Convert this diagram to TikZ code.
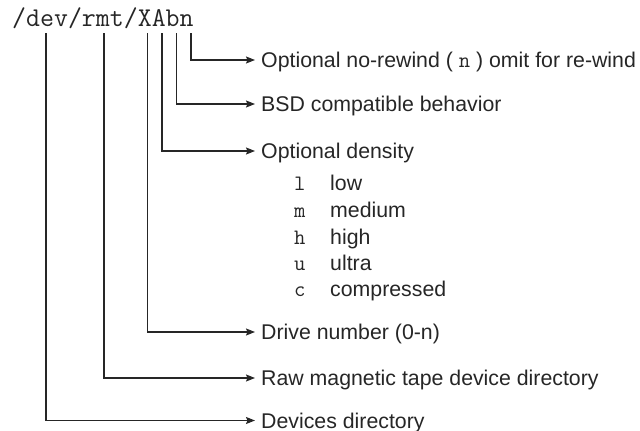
\documentclass[tikz,border=0pt]{standalone}
\usepackage{fontspec}
\setmainfont{Liberation Sans}
\usetikzlibrary{arrows.meta}
\tikzset{
  branch/.style={draw=black!85, line width=1.1pt, -{Stealth[length=9pt,width=7pt,inset=1.5pt]}},
  lbl/.style={anchor=base west, inner sep=0pt, font=\fontsize{21.3}{25}\selectfont, text=black!85},
  code/.style={anchor=base west, inner sep=0pt, font=\ttfamily\fontsize{27.1}{30}\selectfont, text=black!85},
  opt/.style={anchor=base west, inner sep=0pt, font=\ttfamily\fontsize{22}{26}\selectfont, text=black!85},
}
\begin{document}
\begin{tikzpicture}[x=1pt,y=-1pt]
\useasboundingbox (0,0) rectangle (640,431);
\node[code] (path) at (12,27) {/dev/rmt/XAbn};
% branch starting points under the characters
\coordinate (sdev) at (46,33);
\coordinate (srmt) at (104,33);
\coordinate (sX) at (147.5,33);
\coordinate (sA) at (162,33);
\coordinate (sb) at (176.5,33);
\coordinate (sn) at (191,33);
% labels
\node[lbl] (ln) at (261,67.5) {Optional no-rewind ( {\ttfamily\fontsize{22}{26}\selectfont n} ) omit for re-wind};
\node[lbl] (lb) at (261,111.5) {BSD compatible behavior};
\node[lbl] (lA) at (261,158.5) {Optional density};
\node[opt] (o1) at (294,190) {l};
\node[lbl] (w1) at (330,190) {low};
\node[opt] (o2) at (294,217) {m};
\node[lbl] (w2) at (330,217) {medium};
\node[opt] (o3) at (294,244) {h};
\node[lbl] (w3) at (330,244) {high};
\node[opt] (o4) at (294,270) {u};
\node[lbl] (w4) at (330,270) {ultra};
\node[opt] (o5) at (294,296) {c};
\node[lbl] (w5) at (330,296) {compressed};
\node[lbl] (lX) at (261,339.5) {Drive number (0-n)};
\node[lbl] (lrmt) at (261,385.5) {Raw magnetic tape device directory};
\node[lbl] (ldev) at (261,428) {Devices directory};
% connectors
\coordinate (en) at (255,60);
\coordinate (eb) at (255,104);
\coordinate (eA) at (255,151);
\coordinate (eX) at (255,332);
\coordinate (ermt) at (255,378);
\coordinate (edev) at (255,420.5);
\draw[branch] (sn) |- (en);
\draw[branch] (sb) |- (eb);
\draw[branch] (sA) |- (eA);
\draw[branch] (sX) |- (eX);
\draw[branch] (srmt) |- (ermt);
\draw[branch] (sdev) |- (edev);
\end{tikzpicture}
\end{document}
